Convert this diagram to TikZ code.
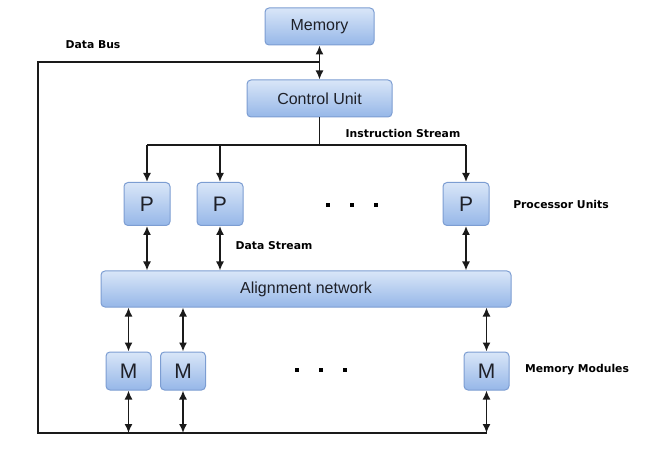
\documentclass[tikz,border=0pt]{standalone}
\usepackage{fontspec}
\setmainfont{Liberation Sans}
\newfontfamily\lblfont{DejaVu Sans}
\usetikzlibrary{arrows.meta}
\definecolor{boxtop}{HTML}{D9E6F8}
\definecolor{boxbot}{HTML}{96B7E8}
\definecolor{boxline}{HTML}{7C9DD2}
\definecolor{txt}{HTML}{1E2028}
\definecolor{wire}{HTML}{1A1A1A}
\tikzset{
  blk/.style={draw=boxline, line width=1pt, rounded corners=4pt,
    top color=boxtop, bottom color=boxbot, text=txt, inner sep=0pt,
    font=\fontsize{16}{18}\selectfont},
  unit/.style={blk, minimum width=46, minimum height=43,
    font=\fontsize{21}{24}\selectfont},
  lbl/.style={font=\lblfont\bfseries\fontsize{10.8}{12}\selectfont, text=black, inner sep=0pt},
  wireline/.style={draw=wire, line width=1.6pt},
  darr/.style={wireline, {Latex[length=9pt,width=8pt]}-{Latex[length=9pt,width=8pt]}},
  sarr/.style={wireline, -{Latex[length=9pt,width=8pt]}},
  dotsq/.style={fill=black, minimum size=4pt, inner sep=0pt},
}
\begin{document}
\begin{tikzpicture}
\begin{scope}[x=1pt,y=-1pt]
\useasboundingbox (0,0) rectangle (661,454);
% boxes
\node[blk, minimum width=109, minimum height=37] (mem) at (319.5,26.5) {Memory};
\node[blk, minimum width=145, minimum height=37] (cu) at (319.5,98.5) {Control Unit};
\node[unit] (p1) at (147,204) {P};
\node[unit] (p2) at (220,204) {P};
\node[unit] (p3) at (466,204) {P};
\node[blk, minimum width=410, minimum height=36] (an) at (306,289) {Alignment network};
\node[unit, minimum width=45, minimum height=38] (m1) at (128.5,371) {M};
\node[unit, minimum width=45, minimum height=38] (m2) at (183,371) {M};
\node[unit, minimum width=45, minimum height=38] (m3) at (486.5,371) {M};
% dots
\node[dotsq] (d1) at (328,205) {};
\node[dotsq] (d2) at (352,205) {};
\node[dotsq] (d3) at (376,205) {};
\node[dotsq] (e1) at (297,370) {};
\node[dotsq] (e2) at (321,370) {};
\node[dotsq] (e3) at (345,370) {};
% labels
\node[lbl] (ldb) at (93,45) {Data Bus};
\node[lbl] (lis) at (403,133) {Instruction Stream};
\node[lbl] (lpu) at (561,204) {Processor Units};
\node[lbl] (lds) at (274,246) {Data Stream};
\node[lbl] (lmm) at (577,370) {Memory Modules};
% coordinates
\coordinate (busj) at (319.5,62);
\coordinate (busl) at (38,62);
\coordinate (busbl) at (38,433);
\coordinate (bus1) at (128.5,433);
\coordinate (bus2) at (183,433);
\coordinate (bus3) at (486.5,433);
\coordinate (isj) at (319.5,145);
\end{scope}
% memory <-> CU
\draw[darr] (mem.south) -- (cu.north);
% data bus
\draw[wireline] (busj) -- (busl) -- (busbl) -- (bus3);
% instruction stream
\draw[wireline] (cu.south) -- (isj);
\draw[wireline] (p1.north |- isj) -- (p3.north |- isj);
\draw[sarr] (p1.north |- isj) -- (p1.north);
\draw[sarr] (p2.north |- isj) -- (p2.north);
\draw[sarr] (p3.north |- isj) -- (p3.north);
% data stream
\draw[darr] (p1.south) -- (p1.south |- an.north);
\draw[darr] (p2.south) -- (p2.south |- an.north);
\draw[darr] (p3.south) -- (p3.south |- an.north);
% alignment <-> M
\draw[darr] (m1.north |- an.south) -- (m1.north);
\draw[darr] (m2.north |- an.south) -- (m2.north);
\draw[darr] (m3.north |- an.south) -- (m3.north);
% M <-> bus
\draw[darr] (m1.south) -- (bus1);
\draw[darr] (m2.south) -- (bus2);
\draw[darr] (m3.south) -- (bus3);
\end{tikzpicture}
\end{document}
